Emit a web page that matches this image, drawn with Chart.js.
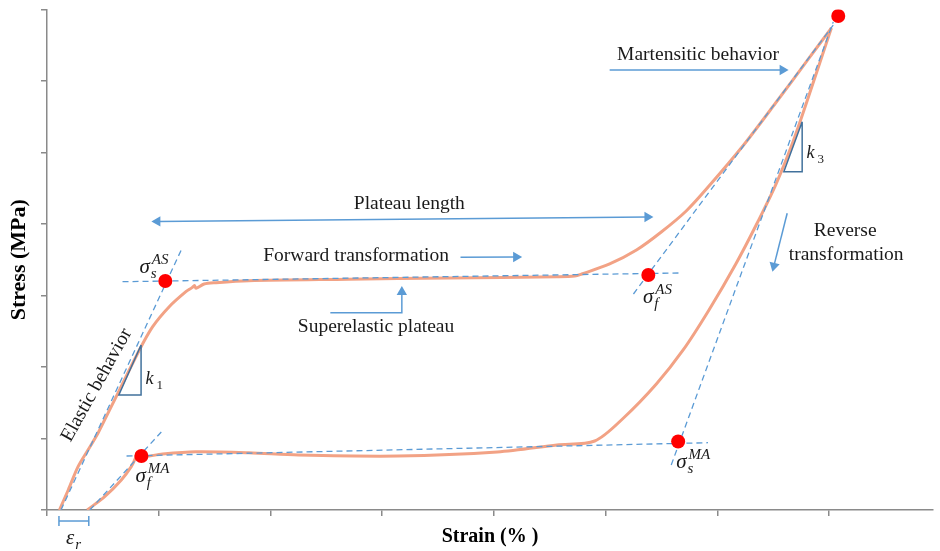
<!DOCTYPE html>
<html>
<head>
<meta charset="utf-8">
<script src="https://cdn.jsdelivr.net/npm/chart.js@4/dist/chart.umd.min.js"></script>
<style>
  html, body { margin: 0; padding: 0; background: #fff; }
</style>
</head>
<body>
<canvas id="chart" width="940" height="551"></canvas>
<script>
// Loading branch (strain %, stress)
const loadStrain = [0.111, 0.190, 0.278, 0.367, 0.456, 0.545, 0.634, 0.827, 0.946, 1.094, 1.243, 1.298, 1.320, 1.334, 1.406, 1.510, 1.806, 2.696, 3.585, 4.564, 4.724, 4.786, 5.036, 5.276, 5.498, 5.721, 5.925, 6.228, 6.521, 6.815, 7.020];
const loadStress = [0.000, 0.280, 0.606, 0.839, 1.073, 1.352, 1.632, 2.238, 2.564, 2.843, 3.053, 3.110, 3.140, 3.100, 3.160, 3.179, 3.207, 3.227, 3.245, 3.263, 3.273, 3.301, 3.441, 3.636, 3.888, 4.182, 4.531, 5.091, 5.692, 6.308, 6.741];

// Unloading branch
const unloadStrain = [0.360, 0.516, 0.665, 0.754, 0.792, 0.805, 0.827, 1.035, 1.332, 1.806, 2.251, 3.141, 4.030, 4.564, 4.902, 5.160, 5.454, 5.694, 5.925, 6.165, 6.343, 6.521, 6.673, 6.815, 7.020];
const unloadStress = [0.000, 0.186, 0.420, 0.606, 0.727, 0.797, 0.741, 0.783, 0.815, 0.801, 0.769, 0.755, 0.811, 0.909, 0.965, 1.287, 1.762, 2.238, 2.797, 3.441, 3.972, 4.545, 5.133, 5.776, 6.741];

// Dashed construction lines
const tangentStrain = [[0.125, 1.201], [0.676, 5.676], [0.383, 1.023], [0.712, 5.916], [5.249, 7.037], [5.587, 7.037]];
const tangentStress = [[0, 3.636], [3.193, 3.315], [0, 1.091], [0.755, 0.941], [3.021, 6.783], [0.629, 6.825]];

// Characteristic points
const keyStrain = [1.059, 0.845, 5.382, 5.649, 7.082];
const keyStress = [3.203, 0.755, 3.287, 0.958, 6.909];

// Arrows: strain, stress, arrow head angle (null = no head)
const arrowStrain = [[0.988, 5.374], [3.701, 4.199], [2.536, 3.176, 3.176], [5.036, 6.584], [6.625, 6.506]];
const arrowStress = [[4.036, 4.097], [3.534, 3.538], [2.759, 2.759, 3.049], [6.154, 6.154], [4.150, 3.414]];
const arrowHeads = [[270, 90], [null, 90], [null, null, 0], [null, 90], [null, 194]];

// Slope triangles k1, k3
const slopeStrain = [[0.842, 0.643, 0.842, 0.842], [6.759, 6.595, 6.759, 6.759]];
const slopeStress = [[2.308, 1.608, 1.608, 2.308], [5.431, 4.731, 4.731, 5.431]];

// Residual strain bracket
const residualStrain = [[0.107, 0.374], [0.107, 0.107], [0.374, 0.374]];
const residualStress = [[-0.154, -0.154], [-0.084, -0.224], [-0.084, -0.224]];

// Text labels: text, strain, stress, angle
const textLabels = [
  ['Plateau length', 3.243, 4.280, 0],
  ['Forward transformation', 2.767, 3.552, 0],
  ['Superelastic plateau', 2.945, 2.564, 0],
  ['Martensitic behavior', 5.827, 6.364, 0],
  ['Reverse', 7.144, 3.902, 0],
  ['transformation', 7.153, 3.566, 0],
  ['Elastic behavior', 0.445, 1.748, -61]
];

// Symbol labels: base, subscript, superscript, strain, stress
const symbolLabels = [
  ['σ', 's', 'AS', 0.827, 3.315],
  ['σ', 'f', 'AS', 5.334, 2.895],
  ['σ', 's', 'MA', 5.632, 0.587],
  ['σ', 'f', 'MA', 0.792, 0.392],
  ['k', '1', '', 0.881, 1.762],
  ['k', '3', '', 6.797, 4.923],
  ['ε', 'r', '', 0.169, -0.476]
];

const curveColor = '#F2A285';
const blue = '#5B9BD5';
const darkBlue = '#41719C';
const axisColor = '#8a8a8a';
const serif = '"Liberation Serif", "Times New Roman", serif';

function pts(xs, ys) {
  return xs.map((x, i) => ({ x: x, y: ys[i] }));
}

const datasets = [];

datasets.push({
  data: pts(keyStrain, keyStress),
  showLine: false,
  pointRadius: 7,
  pointBackgroundColor: '#FF0000',
  pointBorderWidth: 0,
  order: 0
});

tangentStrain.forEach((xs, i) => {
  datasets.push({
    data: pts(xs, tangentStress[i]),
    borderColor: blue,
    borderWidth: 1.3,
    borderDash: [6, 4],
    pointRadius: 0,
    order: 2
  });
});

arrowStrain.forEach((xs, i) => {
  const heads = arrowHeads[i];
  datasets.push({
    data: pts(xs, arrowStress[i]),
    borderColor: blue,
    borderWidth: 1.5,
    pointStyle: 'triangle',
    pointRadius: heads.map(h => h === null ? 0 : 6),
    pointRotation: heads.map(h => h === null ? 0 : h),
    pointBackgroundColor: blue,
    pointBorderColor: blue,
    pointBorderWidth: 0,
    order: 1
  });
});

slopeStrain.forEach((xs, i) => {
  datasets.push({
    data: pts(xs, slopeStress[i]),
    borderColor: darkBlue,
    borderWidth: 1.5,
    pointRadius: 0,
    order: 1
  });
});

residualStrain.forEach((xs, i) => {
  datasets.push({
    data: pts(xs, residualStress[i]),
    borderColor: blue,
    borderWidth: 1.5,
    pointRadius: 0,
    clip: false,
    order: 1
  });
});

[[loadStrain, loadStress], [unloadStrain, unloadStress]].forEach(([xs, ys]) => {
  datasets.push({
    data: pts(xs, ys),
    borderColor: curveColor,
    borderWidth: 3,
    pointRadius: 0,
    tension: 0.3,
    order: 3
  });
});

const labelPlugin = {
  id: 'labels',
  afterDatasetsDraw(chart) {
    const ctx = chart.ctx;
    const sx = chart.scales.x, sy = chart.scales.y;
    ctx.save();
    ctx.fillStyle = '#1a1a1a';
    ctx.font = '19.5px ' + serif;
    ctx.textAlign = 'center';
    ctx.textBaseline = 'middle';
    textLabels.forEach(([t, x, y, a]) => {
      ctx.save();
      ctx.translate(sx.getPixelForValue(x), sy.getPixelForValue(y));
      ctx.rotate(a * Math.PI / 180);
      ctx.fillText(t, 0, 0);
      ctx.restore();
    });
    ctx.textAlign = 'left';
    ctx.textBaseline = 'alphabetic';
    symbolLabels.forEach(([base, sub, sup, x, y]) => {
      const px = sx.getPixelForValue(x), py = sy.getPixelForValue(y);
      const isK = base === 'k';
      ctx.font = 'italic ' + (isK ? 18 : 21) + 'px ' + serif;
      ctx.fillText(base, px, py);
      const w = ctx.measureText(base).width;
      const subItalic = isNaN(Number(sub));
      ctx.font = (subItalic ? 'italic ' : '') + (isK ? 13 : 15) + 'px ' + serif;
      ctx.fillText(sub, px + w + (isK ? 3 : 1), py + 5);
      if (sup) {
        ctx.font = 'italic 15px ' + serif;
        ctx.fillText(sup, px + w + 2, py - 9);
      }
    });
    ctx.restore();
  }
};

new Chart(document.getElementById('chart'), {
  type: 'scatter',
  data: { datasets: datasets },
  options: {
    responsive: false,
    devicePixelRatio: 1,
    animation: false,
    showLine: true,
    layout: { padding: { top: 9.5, right: 2, left: 0, bottom: 0 } },
    plugins: {
      legend: { display: false },
      tooltip: { enabled: false }
    },
    scales: {
      x: {
        type: 'linear',
        min: 0,
        max: 7.93,
        afterFit: s => { s.height = 41; },
        ticks: { display: false, stepSize: 1, includeBounds: false },
        grid: { drawOnChartArea: false, drawTicks: true, tickLength: 6, color: axisColor, lineWidth: 1.5 },
        border: { display: true, color: axisColor, width: 1.5 },
        title: {
          display: true,
          text: 'Strain (% )',
          color: '#000',
          font: { family: serif, size: 20, weight: 'bold' },
          padding: { top: 0, bottom: 2 }
        }
      },
      y: {
        type: 'linear',
        min: 0,
        max: 7,
        afterFit: s => { s.width = 47; },
        ticks: { display: false, stepSize: 1, includeBounds: false },
        grid: { drawOnChartArea: false, drawTicks: true, tickLength: 6, color: axisColor, lineWidth: 1.5 },
        border: { display: true, color: axisColor, width: 1.5 },
        title: {
          display: true,
          text: 'Stress (MPa)',
          color: '#000',
          font: { family: serif, size: 22, weight: 'bold' },
          padding: { top: 6, bottom: 0 }
        }
      }
    }
  },
  plugins: [labelPlugin]
});
</script>
</body>
</html>
